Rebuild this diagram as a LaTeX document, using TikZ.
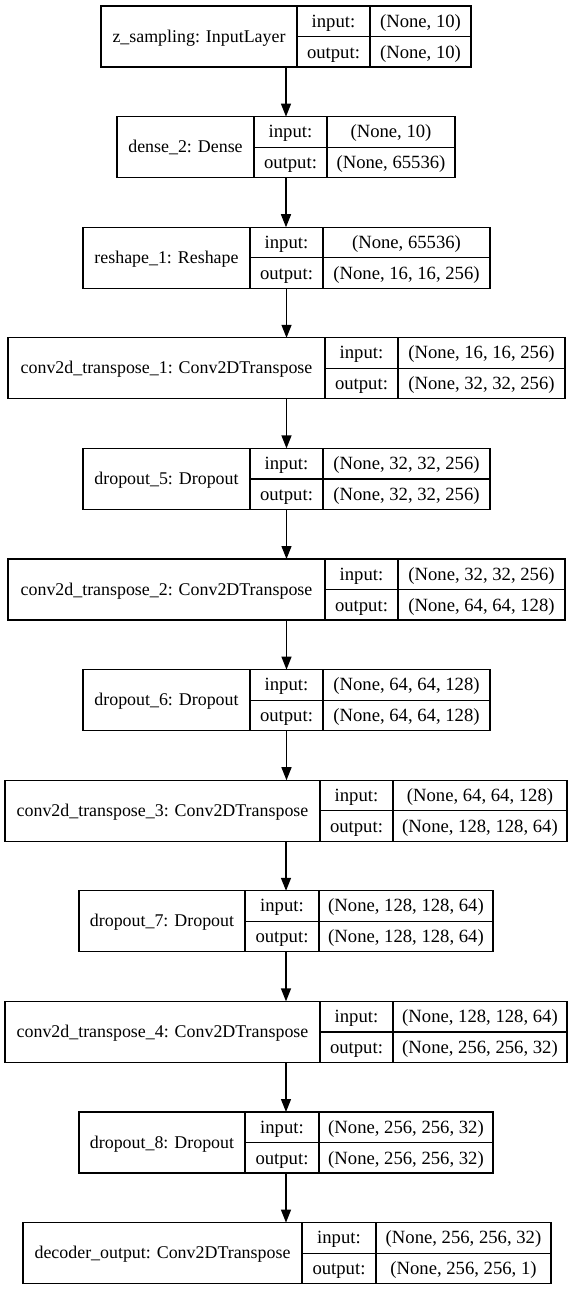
\documentclass[tikz,border=0pt]{standalone}
\usepackage{fontspec}
\setmainfont{Liberation Serif}
\newfontfamily\recfont{Liberation Serif}
\usetikzlibrary{arrows.meta}

\tikzset{
  frame/.style={draw=black, line width=1.2pt, rectangle, inner sep=0pt, outer sep=0pt, anchor=north west},
  cellline/.style={draw=black, line width=1.2pt},
  celltext/.style={anchor=base, inner sep=0pt, font=\recfont\fontsize{18.67}{22}\selectfont},
  titletext/.style={celltext, font=\recfont\fontsize{17.9}{22}\selectfont},
  flow/.style={draw=black, line width=1.3pt, -{Triangle[length=13pt,width=10pt]}},
}

% One layer record: title cell | input:/output: cells | shape cells
% #1 node name, #2 top edge, #3 left edge, #4 title|label divider,
% #5 label|shape divider, #6 right edge, #7 title, #8 input shape, #9 output shape
\newcommand\layerbox[9]{%
  \node[frame, minimum width={#6pt-#3pt}, minimum height=61pt] (#1) at (#3,#2) {};
  \draw[cellline] (#4,#2) -- (#4,#2+61)
                  (#5,#2) -- (#5,#2+61)
                  (#4,#2+30.5) -- (#6,#2+30.5);
  \node[titletext] (#1n)  at ({(#3+#4)/2},{#2+36}) {#7};
  \node[celltext] (#1i)  at ({(#4+#5)/2},{#2+21}) {input:};
  \node[celltext] (#1o)  at ({(#4+#5)/2},{#2+52}) {output:};
  \node[celltext] (#1iv) at ({(#5+#6)/2},{#2+21}) {#8};
  \node[celltext] (#1ov) at ({(#5+#6)/2},{#2+52}) {#9};
}

\begin{document}
\begin{tikzpicture}[x=1pt, y=-1pt]
  \useasboundingbox[fill=white] (0,0) rectangle (573,1291);

  \layerbox{L1}{6}{101}{297}{370}{471}{z\_sampling: InputLayer}{(None, 10)}{(None, 10)}
  \layerbox{L2}{116.6}{117}{254}{327}{455}{dense\_2: Dense}{(None, 10)}{(None, 65536)}
  \layerbox{L3}{227.2}{83}{250}{323}{490}{reshape\_1: Reshape}{(None, 65536)}{(None, 16, 16, 256)}
  \layerbox{L4}{337.8}{8}{325}{398}{565}{conv2d\_transpose\_1: Conv2DTranspose}{(None, 16, 16, 256)}{(None, 32, 32, 256)}
  \layerbox{L5}{448.4}{83}{250}{323}{490}{dropout\_5: Dropout}{(None, 32, 32, 256)}{(None, 32, 32, 256)}
  \layerbox{L6}{559}{8}{325}{398}{565}{conv2d\_transpose\_2: Conv2DTranspose}{(None, 32, 32, 256)}{(None, 64, 64, 128)}
  \layerbox{L7}{669.6}{83}{250}{323}{490}{dropout\_6: Dropout}{(None, 64, 64, 128)}{(None, 64, 64, 128)}
  \layerbox{L8}{780.2}{5}{320}{393}{567}{conv2d\_transpose\_3: Conv2DTranspose}{(None, 64, 64, 128)}{(None, 128, 128, 64)}
  \layerbox{L9}{890.8}{79}{245}{319}{493}{dropout\_7: Dropout}{(None, 128, 128, 64)}{(None, 128, 128, 64)}
  \layerbox{L10}{1001.4}{5}{320}{393}{567}{conv2d\_transpose\_4: Conv2DTranspose}{(None, 128, 128, 64)}{(None, 256, 256, 32)}
  \layerbox{L11}{1112}{79}{245}{319}{493}{dropout\_8: Dropout}{(None, 256, 256, 32)}{(None, 256, 256, 32)}
  \layerbox{L12}{1222.6}{23}{302}{376}{551}{decoder\_output: Conv2DTranspose}{(None, 256, 256, 32)}{(None, 256, 256, 1)}

  % data flow between consecutive layers
  \foreach \a/\b in {L1/L2, L2/L3, L3/L4, L4/L5, L5/L6, L6/L7, L7/L8, L8/L9, L9/L10, L10/L11, L11/L12}
    \draw[flow] (\a.south) -- (\a.south |- \b.north);
\end{tikzpicture}
\end{document}
